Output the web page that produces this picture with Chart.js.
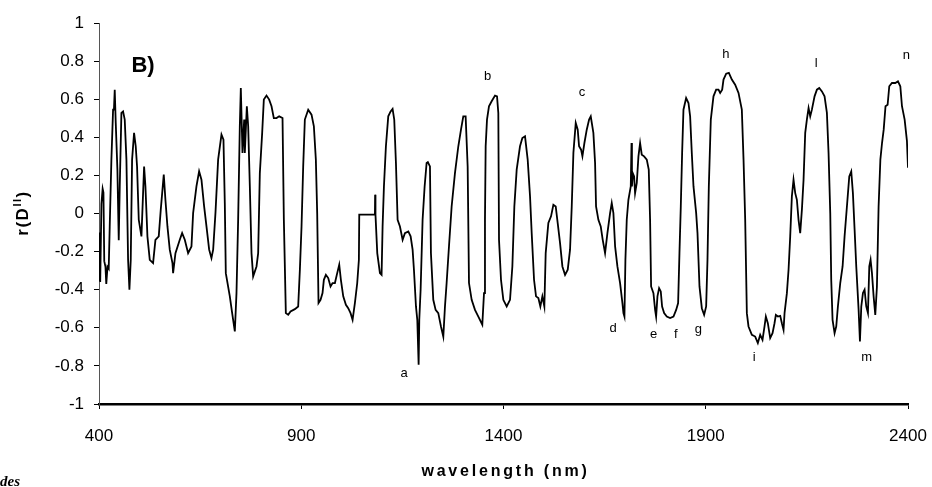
<!DOCTYPE html>
<html>
<head>
<meta charset="utf-8">
<script src="https://cdn.jsdelivr.net/npm/chart.js@4.4.1/dist/chart.umd.min.js"></script>
<style>
  html, body { margin: 0; padding: 0; background: #fff; }
  #wrap { width: 932px; height: 487px; position: relative; }
</style>
</head>
<body>
<div id="wrap"><canvas id="c" width="932" height="487"></canvas></div>
<script>
// ---- data ----
const wavelengths = [
400,401.5,403,406,409,411,413,416,418,421,424,426.5,430.6,434.8,437,438.9,441.4,445.5,448.8,451.3,
455.4,459.5,463.6,467.8,471.9,475.2,478.5,481.8,486.7,490.8,494.1,498.3,504.9,511.5,514.8,519.7,525.5,533.7,539.5,547.7,
552.7,560.1,564.2,569.2,574.9,581.6,583.2,589,599.7,605.5,612.1,620.3,628.6,632.7,640.9,647.5,653.3,659.9,665.7,672.3,
678,682.2,687.9,694.5,702.8,707.7,711,713.5,723.4,729.2,735.8,739.9,744,748.1,750.6,754.7,758.9,760.5,765.5,768.8,
772.9,777,781.1,789.4,793.5,797.6,803.4,807.5,814.1,820.7,826.5,832.2,838.8,845.4,853.7,857,861.9,867.7,873.5,884.2,
892.4,896.6,900.7,904.8,908.9,917.2,925.4,931.2,936.1,939.4,942.7,947.7,952.6,955.9,960.9,966.7,972.4,977.4,983.2,988.9,
993.9,998,1003.8,1010.4,1016.1,1021.9,1026.9,1032.6,1038.4,1042.5,1043.4,1082.1,1082.6,1083.5,1087.9,1094.5,1098.6,1101.1,1104.4,1109.3,
1115.1,1120.9,1125.8,1129.9,1134.1,1138.2,1144,1150.6,1156.3,1164.6,1170.4,1175.3,1178.6,1183.6,1186.9,1190.2,1191.8,1195.1,1200,1205,
1209.9,1213,1218.2,1220.6,1226.4,1232.2,1238.8,1245.4,1251.2,1255.3,1259.4,1265.2,1271.8,1280,1288.3,1294.9,1300.6,1306.4,1311.4,1314.7,
1321.3,1329.5,1337.8,1347.6,1351.8,1354.2,1355.9,1359.2,1364.1,1370.7,1379,1384,1387.2,1388.9,1393.8,1399.6,1407.9,1416.1,1421.9,1426.8,
1432.6,1440.8,1446.6,1453.2,1459.8,1465.6,1469.7,1475.5,1480.4,1486.2,1491.1,1496.1,1501,1504.3,1510.9,1517.5,1523.3,1529.1,1534,1539.8,
1545.6,1552.2,1558.8,1564.5,1568.7,1572.8,1578.6,1583.5,1586.8,1591.8,1595.1,1600,1605.8,1611.6,1615.7,1622.2,1626.4,1628.8,1634.6,1640.4,
1645.3,1651.1,1656.9,1663.5,1667.6,1671.7,1675.9,1681.6,1688.2,1694,1696.5,1699,1701.4,1704.7,1708.8,1714.6,1716.5,1717.5,1719.6,1722.9,
1725.3,1729.5,1733.6,1737.7,1741.8,1747.6,1754.2,1759.1,1762.4,1764.9,1770.7,1774.8,1777.3,1780.6,1784.7,1788.8,1792.1,1797.1,1803.7,1811.9,
1820.2,1826.8,1831.7,1835,1838.3,1841.6,1844.9,1851.5,1857.3,1861.4,1865.5,1869.7,1876.3,1879.6,1884.5,1890.3,1896,1901,1904.3,1907.6,
1912.5,1919.1,1925.7,1931.5,1935.6,1940.6,1943.9,1950.5,1957.1,1964.5,1972.7,1981,1989.2,1993.4,1997.5,2001.6,2005.7,2014,2022.2,2028.8,
2034.6,2040.3,2045.3,2048.6,2053.5,2059.3,2065.1,2070,2073.3,2078.3,2084.1,2088.2,2092.3,2094.8,2100.6,2104.7,2108.8,2112.9,2117,2121.2,
2125.3,2129.4,2133.5,2137.7,2141.8,2145.9,2150,2154.2,2158.3,2162.4,2169,2174.8,2180.6,2187.2,2193.7,2199.5,2203.6,2207.8,2210.2,2213.5,
2218.5,2222.6,2226.7,2232.5,2238.3,2243.2,2249,2254.8,2259.7,2263.8,2268,2272.1,2277.9,2281.2,2284.5,2288.6,2292.7,2296.8,2301,2304.3,
2307.5,2310.9,2315,2319.1,2323.2,2327.3,2331.7,2335.8,2339.9,2344.4,2349.6,2353.7,2360.3,2368.6,2375.2,2381,2385.1,2391.7,2397.4,2400
];
const rValues = [
-0.35,-0.10,-0.36,0.05,0.13,0.11,-0.25,-0.28,-0.37,-0.28,-0.29,-0.07,0.28,0.545,0.55,0.65,0.475,0.23,-0.14,0.14,
0.528,0.536,0.493,0.283,-0.243,-0.40,-0.243,0.283,0.423,0.353,0.247,-0.033,-0.12,0.247,0.142,-0.12,-0.243,-0.26,-0.138,-0.12,
0.02,0.204,0.072,-0.068,-0.19,-0.26,-0.313,-0.208,-0.138,-0.103,-0.138,-0.208,-0.173,0.002,0.142,0.221,0.177,0.037,-0.068,-0.19,
-0.234,-0.19,0.002,0.283,0.414,0.388,0.055,-0.313,-0.435,-0.523,-0.619,-0.418,-0.033,0.458,0.659,0.318,0.493,0.318,0.563,0.458,
0.142,-0.208,-0.33,-0.278,-0.208,0.212,0.423,0.598,0.619,0.598,0.563,0.501,0.501,0.51,0.501,-0.033,-0.523,-0.532,-0.514,-0.502,
-0.488,-0.295,-0.068,0.247,0.493,0.545,0.519,0.458,0.283,0.002,-0.47,-0.453,-0.418,-0.348,-0.322,-0.339,-0.383,-0.365,-0.365,-0.313,
-0.269,-0.348,-0.435,-0.479,-0.497,-0.523,-0.558,-0.47,-0.365,-0.243,-0.006,-0.006,0.099,-0.006,-0.208,-0.313,-0.322,-0.068,0.142,0.353,
0.51,0.536,0.549,0.493,0.265,-0.033,-0.068,-0.138,-0.103,-0.094,-0.12,-0.19,-0.295,-0.488,-0.558,-0.794,-0.558,-0.4,-0.033,0.142,
0.265,0.27,0.247,-0.208,-0.453,-0.506,-0.523,-0.593,-0.646,-0.488,-0.365,-0.173,0.037,0.212,0.353,0.44,0.51,0.51,0.247,-0.365,
-0.453,-0.506,-0.541,-0.584,-0.418,-0.033,0.353,0.493,0.563,0.589,0.619,0.615,0.528,-0.138,-0.348,-0.453,-0.488,-0.453,-0.278,0.037,
0.23,0.353,0.396,0.405,0.283,0.09,-0.103,-0.348,-0.435,-0.444,-0.488,-0.435,-0.488,-0.208,-0.05,-0.015,0.046,0.037,-0.05,-0.155,
-0.278,-0.322,-0.295,-0.19,0.037,0.318,0.475,0.44,0.353,0.335,0.3,0.37,0.44,0.493,0.51,0.423,0.265,0.037,-0.033,-0.068,
-0.138,-0.208,-0.103,0.002,0.055,0.002,-0.173,-0.278,-0.365,-0.47,-0.523,-0.541,-0.243,-0.033,0.072,0.142,0.37,0.142,0.212,0.195,
0.107,0.16,0.3,0.37,0.309,0.3,0.283,0.23,-0.033,-0.383,-0.418,-0.506,-0.541,-0.435,-0.392,-0.409,-0.488,-0.523,-0.541,-0.549,
-0.541,-0.506,-0.47,-0.208,0.037,0.318,0.545,0.606,0.58,0.51,0.318,0.142,0.002,-0.103,-0.383,-0.497,-0.532,-0.488,-0.243,0.142,
0.493,0.615,0.65,0.65,0.633,0.65,0.703,0.734,0.738,0.703,0.676,0.633,0.545,0.283,-0.033,-0.523,-0.593,-0.637,-0.646,-0.68,
-0.637,-0.663,-0.593,-0.541,-0.576,-0.654,-0.628,-0.576,-0.532,-0.541,-0.537,-0.576,-0.611,-0.523,-0.418,-0.295,-0.12,0.09,0.177,0.107,
0.072,-0.033,-0.103,0.02,0.177,0.423,0.493,0.554,0.51,0.545,0.615,0.65,0.659,0.641,0.615,0.528,0.318,0.002,-0.348,-0.558,
-0.628,-0.593,-0.488,-0.365,-0.278,-0.12,0.037,0.195,0.221,0.107,-0.085,-0.278,-0.506,-0.672,-0.488,-0.418,-0.4,-0.488,-0.523,-0.278,
-0.243,-0.313,-0.435,-0.532,-0.383,0.037,0.283,0.37,0.44,0.563,0.571,0.668,0.685,0.685,0.694,0.668,0.563,0.493,0.38,0.24
];
const xTickValues = [400, 900, 1400, 1900, 2400];
const yTickValues = [-1, -0.8, -0.6, -0.4, -0.2, 0, 0.2, 0.4, 0.6, 0.8, 1];
const markLetters = ['a','b','c','d','e','f','g','h','i','l','m','n'];
const markWavelengths = [1154, 1361, 1594, 1671, 1771, 1826, 1882, 1950, 2020, 2173, 2298, 2396];
const markR = [-0.838, 0.72, 0.636, -0.601, -0.633, -0.633, -0.61, 0.834, -0.754, 0.79, -0.754, 0.829];

const points = wavelengths.map((w, i) => ({ x: w, y: rValues[i] }));

const FONT = '"Liberation Sans", Arial, sans-serif';

const annotate = {
  id: 'annotate',
  afterDraw(chart) {
    const { ctx, scales: { x, y } } = chart;
    ctx.save();
    ctx.fillStyle = '#000';
    // peak letters
    ctx.font = '13px ' + FONT;
    ctx.textAlign = 'center';
    ctx.textBaseline = 'middle';
    markLetters.forEach((t, i) => {
      ctx.fillText(t, x.getPixelForValue(markWavelengths[i]), y.getPixelForValue(markR[i]));
    });
    // panel tag
    ctx.font = 'bold 22px ' + FONT;
    ctx.textAlign = 'center';
    ctx.textBaseline = 'alphabetic';
    ctx.fillText('B)', 143, 72);
    // x title
    ctx.font = 'bold 16px ' + FONT;
    try { ctx.letterSpacing = '2.8px'; } catch (e) {}
    ctx.textAlign = 'center';
    ctx.fillText('wavelength (nm)', (chart.chartArea.left + chart.chartArea.right) / 2 + 2, 476);
    // y title (rotated, with superscript)
    ctx.save();
    ctx.translate(28, 213);
    ctx.rotate(-Math.PI / 2);
    ctx.textAlign = 'left';
    try { ctx.letterSpacing = '1.5px'; } catch (e) {}
    const p1 = 'r(D', p3 = ')';
    ctx.font = 'bold 17px ' + FONT;
    const w1 = ctx.measureText(p1).width;
    ctx.font = 'bold 11px ' + FONT;
    const w2 = ctx.measureText('II').width;
    ctx.font = 'bold 17px ' + FONT;
    const w3 = ctx.measureText(p3).width;
    let sx = -(w1 + w2 + w3) / 2;
    ctx.fillText(p1, sx, 0); sx += w1;
    ctx.font = 'bold 11px ' + FONT;
    ctx.fillText('II', sx, -7); sx += w2;
    ctx.font = 'bold 17px ' + FONT;
    ctx.fillText(p3, sx, 0);
    ctx.restore();
    // stray caption fragment at bottom-left
    try { ctx.letterSpacing = '0px'; } catch (e) {}
    ctx.font = 'italic bold 15px "Liberation Serif", "Times New Roman", serif';
    ctx.textAlign = 'left';
    ctx.fillText('des', 0, 486);
    ctx.restore();
  }
};

new Chart(document.getElementById('c'), {
  type: 'line',
  data: {
    datasets: [{
      data: points,
      borderColor: '#000',
      borderWidth: 1.8,
      pointRadius: 0,
      tension: 0,
      fill: false
    }]
  },
  options: {
    responsive: false,
    animation: false,
    devicePixelRatio: 1,
    layout: { padding: { top: 23, right: 24, left: 0, bottom: 0 } },
    plugins: { legend: { display: false }, tooltip: { enabled: false } },
    scales: {
      x: {
        type: 'linear',
        min: 400, max: 2400,
        afterBuildTicks: s => { s.ticks = xTickValues.map(v => ({ value: v })); },
        afterFit: s => { s.height = 83; s.paddingLeft = 0; s.paddingRight = 0; },
        ticks: { color: '#000', font: { family: FONT, size: 17 }, padding: 17, maxRotation: 0,
                 callback: v => String(v) },
        grid: { drawOnChartArea: false, drawTicks: true, tickLength: 5, color: '#000', lineWidth: 1 },
        border: { display: true, color: '#000', width: 2.5 }
      },
      y: {
        type: 'linear',
        min: -1, max: 1,
        afterBuildTicks: s => { s.ticks = yTickValues.map(v => ({ value: v })); },
        afterFit: s => { s.width = 99; s.paddingTop = 0; s.paddingBottom = 0; },
        ticks: { color: '#000', font: { family: FONT, size: 17 }, padding: 10,
                 callback: v => String(+Number(v).toFixed(1)) },
        grid: { drawOnChartArea: false, drawTicks: true, tickLength: 5, color: '#000', lineWidth: 1 },
        border: { display: true, color: '#555', width: 1 }
      }
    }
  },
  plugins: [annotate]
});
</script>
</body>
</html>
